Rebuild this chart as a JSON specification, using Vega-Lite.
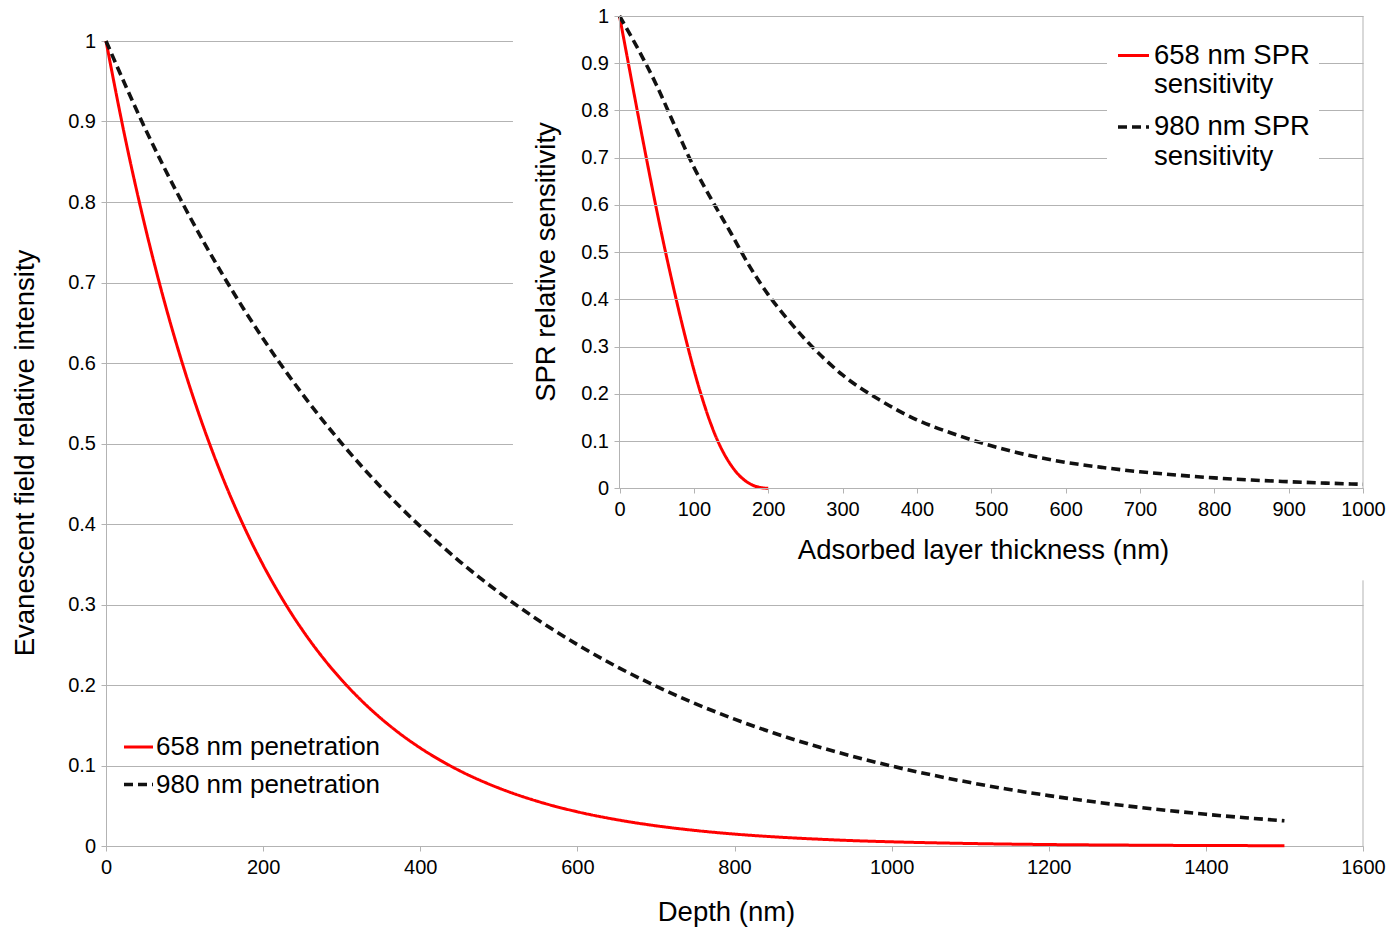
{
  "$schema": "https://vega.github.io/schema/vega-lite/v6.json",
  "width": 1257,
  "height": 805,
  "autosize": {"type": "none"},
  "padding": {"left": 106, "top": 41, "right": 28, "bottom": 83},
  "background": "white",
  "config": {
    "font": "Liberation Sans",
    "view": {"stroke": null},
    "axis": {
      "labelFont": "Liberation Sans",
      "titleFont": "Liberation Sans",
      "labelFontSize": 20,
      "labelColor": "#000000",
      "titleFontSize": 27.5,
      "titleFontWeight": "normal",
      "titleColor": "#000000",
      "domainColor": "#b3b3b3",
      "tickColor": "#b3b3b3",
      "gridColor": "#b3b3b3",
      "tickSize": 5,
      "labelFlush": false,
      "labelOverlap": false
    },
    "legend": {
      "labelFont": "Liberation Sans",
      "labelColor": "#000000",
      "labelLimit": 400
    }
  },
  "datasets": {
    "main": [
      {"depth": 0, "value": 1.0, "series": "658 nm penetration"},
      {"depth": 25, "value": 0.8767, "series": "658 nm penetration"},
      {"depth": 50, "value": 0.7686, "series": "658 nm penetration"},
      {"depth": 75, "value": 0.6739, "series": "658 nm penetration"},
      {"depth": 100, "value": 0.5908, "series": "658 nm penetration"},
      {"depth": 125, "value": 0.5179, "series": "658 nm penetration"},
      {"depth": 150, "value": 0.4541, "series": "658 nm penetration"},
      {"depth": 175, "value": 0.3981, "series": "658 nm penetration"},
      {"depth": 200, "value": 0.349, "series": "658 nm penetration"},
      {"depth": 225, "value": 0.306, "series": "658 nm penetration"},
      {"depth": 250, "value": 0.2683, "series": "658 nm penetration"},
      {"depth": 275, "value": 0.2352, "series": "658 nm penetration"},
      {"depth": 300, "value": 0.2062, "series": "658 nm penetration"},
      {"depth": 325, "value": 0.1808, "series": "658 nm penetration"},
      {"depth": 350, "value": 0.1585, "series": "658 nm penetration"},
      {"depth": 375, "value": 0.1389, "series": "658 nm penetration"},
      {"depth": 400, "value": 0.1218, "series": "658 nm penetration"},
      {"depth": 450, "value": 0.0936, "series": "658 nm penetration"},
      {"depth": 500, "value": 0.072, "series": "658 nm penetration"},
      {"depth": 550, "value": 0.0553, "series": "658 nm penetration"},
      {"depth": 600, "value": 0.0425, "series": "658 nm penetration"},
      {"depth": 650, "value": 0.0327, "series": "658 nm penetration"},
      {"depth": 700, "value": 0.0251, "series": "658 nm penetration"},
      {"depth": 750, "value": 0.0193, "series": "658 nm penetration"},
      {"depth": 800, "value": 0.0148, "series": "658 nm penetration"},
      {"depth": 850, "value": 0.0114, "series": "658 nm penetration"},
      {"depth": 900, "value": 0.0088, "series": "658 nm penetration"},
      {"depth": 950, "value": 0.0067, "series": "658 nm penetration"},
      {"depth": 1000, "value": 0.0052, "series": "658 nm penetration"},
      {"depth": 1100, "value": 0.0031, "series": "658 nm penetration"},
      {"depth": 1200, "value": 0.0018, "series": "658 nm penetration"},
      {"depth": 1300, "value": 0.0011, "series": "658 nm penetration"},
      {"depth": 1400, "value": 0.0006, "series": "658 nm penetration"},
      {"depth": 1500, "value": 0.0004, "series": "658 nm penetration"},
      {"depth": 0, "value": 1.0, "series": "980 nm penetration"},
      {"depth": 50, "value": 0.8909, "series": "980 nm penetration"},
      {"depth": 100, "value": 0.7938, "series": "980 nm penetration"},
      {"depth": 150, "value": 0.7072, "series": "980 nm penetration"},
      {"depth": 200, "value": 0.6301, "series": "980 nm penetration"},
      {"depth": 250, "value": 0.5614, "series": "980 nm penetration"},
      {"depth": 300, "value": 0.5002, "series": "980 nm penetration"},
      {"depth": 350, "value": 0.4456, "series": "980 nm penetration"},
      {"depth": 400, "value": 0.397, "series": "980 nm penetration"},
      {"depth": 450, "value": 0.3537, "series": "980 nm penetration"},
      {"depth": 500, "value": 0.3151, "series": "980 nm penetration"},
      {"depth": 550, "value": 0.2808, "series": "980 nm penetration"},
      {"depth": 600, "value": 0.2502, "series": "980 nm penetration"},
      {"depth": 650, "value": 0.2229, "series": "980 nm penetration"},
      {"depth": 700, "value": 0.1986, "series": "980 nm penetration"},
      {"depth": 750, "value": 0.1769, "series": "980 nm penetration"},
      {"depth": 800, "value": 0.1576, "series": "980 nm penetration"},
      {"depth": 850, "value": 0.1404, "series": "980 nm penetration"},
      {"depth": 900, "value": 0.1251, "series": "980 nm penetration"},
      {"depth": 950, "value": 0.1115, "series": "980 nm penetration"},
      {"depth": 1000, "value": 0.0993, "series": "980 nm penetration"},
      {"depth": 1050, "value": 0.0885, "series": "980 nm penetration"},
      {"depth": 1100, "value": 0.0788, "series": "980 nm penetration"},
      {"depth": 1150, "value": 0.0702, "series": "980 nm penetration"},
      {"depth": 1200, "value": 0.0626, "series": "980 nm penetration"},
      {"depth": 1250, "value": 0.0558, "series": "980 nm penetration"},
      {"depth": 1300, "value": 0.0497, "series": "980 nm penetration"},
      {"depth": 1350, "value": 0.0443, "series": "980 nm penetration"},
      {"depth": 1400, "value": 0.0394, "series": "980 nm penetration"},
      {"depth": 1450, "value": 0.0351, "series": "980 nm penetration"},
      {"depth": 1500, "value": 0.0313, "series": "980 nm penetration"}
    ],
    "inset": [
      {"thickness": 0, "sensitivity": 1.0, "series": "658 nm SPR sensitivity"},
      {"thickness": 10, "sensitivity": 0.916, "series": "658 nm SPR sensitivity"},
      {"thickness": 20, "sensitivity": 0.832, "series": "658 nm SPR sensitivity"},
      {"thickness": 30, "sensitivity": 0.749, "series": "658 nm SPR sensitivity"},
      {"thickness": 40, "sensitivity": 0.668, "series": "658 nm SPR sensitivity"},
      {"thickness": 50, "sensitivity": 0.589, "series": "658 nm SPR sensitivity"},
      {"thickness": 60, "sensitivity": 0.514, "series": "658 nm SPR sensitivity"},
      {"thickness": 70, "sensitivity": 0.443, "series": "658 nm SPR sensitivity"},
      {"thickness": 80, "sensitivity": 0.375, "series": "658 nm SPR sensitivity"},
      {"thickness": 90, "sensitivity": 0.311, "series": "658 nm SPR sensitivity"},
      {"thickness": 100, "sensitivity": 0.251, "series": "658 nm SPR sensitivity"},
      {"thickness": 110, "sensitivity": 0.197, "series": "658 nm SPR sensitivity"},
      {"thickness": 120, "sensitivity": 0.149, "series": "658 nm SPR sensitivity"},
      {"thickness": 130, "sensitivity": 0.108, "series": "658 nm SPR sensitivity"},
      {"thickness": 140, "sensitivity": 0.075, "series": "658 nm SPR sensitivity"},
      {"thickness": 150, "sensitivity": 0.049, "series": "658 nm SPR sensitivity"},
      {"thickness": 160, "sensitivity": 0.029, "series": "658 nm SPR sensitivity"},
      {"thickness": 170, "sensitivity": 0.015, "series": "658 nm SPR sensitivity"},
      {"thickness": 180, "sensitivity": 0.006, "series": "658 nm SPR sensitivity"},
      {"thickness": 190, "sensitivity": 0.0015, "series": "658 nm SPR sensitivity"},
      {"thickness": 200, "sensitivity": 0.0, "series": "658 nm SPR sensitivity"},
      {"thickness": 0, "sensitivity": 1.0, "series": "980 nm SPR sensitivity"},
      {"thickness": 25, "sensitivity": 0.93, "series": "980 nm SPR sensitivity"},
      {"thickness": 50, "sensitivity": 0.853, "series": "980 nm SPR sensitivity"},
      {"thickness": 75, "sensitivity": 0.765, "series": "980 nm SPR sensitivity"},
      {"thickness": 100, "sensitivity": 0.68, "series": "980 nm SPR sensitivity"},
      {"thickness": 125, "sensitivity": 0.608, "series": "980 nm SPR sensitivity"},
      {"thickness": 150, "sensitivity": 0.54, "series": "980 nm SPR sensitivity"},
      {"thickness": 175, "sensitivity": 0.47, "series": "980 nm SPR sensitivity"},
      {"thickness": 200, "sensitivity": 0.41, "series": "980 nm SPR sensitivity"},
      {"thickness": 225, "sensitivity": 0.36, "series": "980 nm SPR sensitivity"},
      {"thickness": 250, "sensitivity": 0.315, "series": "980 nm SPR sensitivity"},
      {"thickness": 275, "sensitivity": 0.275, "series": "980 nm SPR sensitivity"},
      {"thickness": 300, "sensitivity": 0.24, "series": "980 nm SPR sensitivity"},
      {"thickness": 350, "sensitivity": 0.187, "series": "980 nm SPR sensitivity"},
      {"thickness": 400, "sensitivity": 0.145, "series": "980 nm SPR sensitivity"},
      {"thickness": 450, "sensitivity": 0.115, "series": "980 nm SPR sensitivity"},
      {"thickness": 500, "sensitivity": 0.09, "series": "980 nm SPR sensitivity"},
      {"thickness": 550, "sensitivity": 0.07, "series": "980 nm SPR sensitivity"},
      {"thickness": 600, "sensitivity": 0.055, "series": "980 nm SPR sensitivity"},
      {"thickness": 650, "sensitivity": 0.044, "series": "980 nm SPR sensitivity"},
      {"thickness": 700, "sensitivity": 0.035, "series": "980 nm SPR sensitivity"},
      {"thickness": 750, "sensitivity": 0.028, "series": "980 nm SPR sensitivity"},
      {"thickness": 800, "sensitivity": 0.022, "series": "980 nm SPR sensitivity"},
      {"thickness": 850, "sensitivity": 0.0175, "series": "980 nm SPR sensitivity"},
      {"thickness": 900, "sensitivity": 0.014, "series": "980 nm SPR sensitivity"},
      {"thickness": 950, "sensitivity": 0.011, "series": "980 nm SPR sensitivity"},
      {"thickness": 1000, "sensitivity": 0.0085, "series": "980 nm SPR sensitivity"}
    ]
  },
  "layer": [
    {
      "layer": [
        {
          "data": {"name": "main"},
          "mark": {"type": "line", "interpolate": "monotone"},
          "encoding": {
            "x": {
              "field": "depth",
              "type": "quantitative",
              "scale": {"domain": [0, 1600], "nice": false, "zero": false},
              "axis": {
                "title": "Depth (nm)",
                "values": [0, 200, 400, 600, 800, 1000, 1200, 1400, 1600],
                "format": "d",
                "grid": false,
                "labelPadding": 6,
                "titlePadding": 21,
                "titleX": 620
              }
            },
            "y": {
              "field": "value",
              "type": "quantitative",
              "scale": {"domain": [0, 1], "nice": false, "zero": false},
              "axis": {
                "title": "Evanescent field relative intensity",
                "values": [0, 0.1, 0.2, 0.3, 0.4, 0.5, 0.6, 0.7, 0.8, 0.9, 1],
                "format": "~g",
                "grid": true,
                "labelPadding": 5.5,
                "titlePadding": 28.5,
                "titleY": 411.5
              }
            },
            "strokeWidth": {
              "field": "series",
              "type": "nominal",
              "scale": {"domain": ["658 nm penetration", "980 nm penetration"], "range": [3, 3.6]},
              "legend": null
            },
            "color": {
              "field": "series",
              "type": "nominal",
              "scale": {"domain": ["658 nm penetration", "980 nm penetration"], "range": ["#ff0000", "#111111"]},
              "legend": {
                "title": null,
                "orient": "none",
                "legendX": 16,
                "legendY": 690,
                "labelFontSize": 26,
                "symbolType": "stroke",
                "symbolSize": 841,
                "symbolStrokeWidth": 3,
                "labelOffset": 1,
                "rowPadding": 8,
                "padding": 0,
                "zindex": 2
              }
            },
            "strokeDash": {
              "field": "series",
              "type": "nominal",
              "scale": {"domain": ["658 nm penetration", "980 nm penetration"], "range": [[1, 0], [9, 5]]},
              "legend": {
                "title": null,
                "orient": "none",
                "legendX": 16,
                "legendY": 690,
                "labelFontSize": 26,
                "symbolType": "stroke",
                "symbolSize": 841,
                "symbolStrokeWidth": 3,
                "labelOffset": 1,
                "rowPadding": 8,
                "padding": 0,
                "zindex": 2
              }
            }
          }
        },
        {
          "data": {"values": [{}]},
          "mark": {"type": "rect", "fill": "white", "stroke": null},
          "encoding": {
            "x": {"datum": 518, "type": "quantitative"},
            "x2": {"datum": 1700},
            "y": {"datum": 0.33, "type": "quantitative"},
            "y2": {"datum": 1.1}
          }
        },
        {
          "data": {"values": [{}]},
          "mark": {"type": "rule", "color": "#b3b3b3", "strokeWidth": 1},
          "encoding": {
            "x": {"datum": 1600, "type": "quantitative"},
            "y": {"datum": 0, "type": "quantitative"},
            "y2": {"datum": 0.33}
          }
        }
      ]
    },
    {
      "layer": [
        {
          "data": {"name": "inset"},
          "mark": {"type": "line", "interpolate": "monotone"},
          "encoding": {
            "x": {
              "field": "thickness",
              "type": "quantitative",
              "scale": {"domain": [0, 1000], "range": [513.5, 1257], "nice": false, "zero": false},
              "axis": {
                "orient": "bottom",
                "offset": -358,
                "title": "Adsorbed layer thickness (nm)",
                "values": [0, 100, 200, 300, 400, 500, 600, 700, 800, 900, 1000],
                "format": "d",
                "grid": false,
                "labelPadding": 6,
                "titlePadding": 17,
                "titleX": 877,
                "zindex": 1
              }
            },
            "y": {
              "field": "sensitivity",
              "type": "quantitative",
              "scale": {"domain": [0, 1], "range": [447.3, -25], "nice": false, "zero": false},
              "axis": {
                "orient": "left",
                "offset": -513,
                "title": "SPR relative sensitivity",
                "values": [0, 0.1, 0.2, 0.3, 0.4, 0.5, 0.6, 0.7, 0.8, 0.9, 1],
                "format": "~g",
                "grid": true,
                "labelPadding": 5.5,
                "titlePadding": 20.5,
                "titleY": 220.5,
                "zindex": 1
              }
            },
            "strokeWidth": {
              "field": "series",
              "type": "nominal",
              "scale": {"domain": ["658 nm SPR sensitivity", "980 nm SPR sensitivity"], "range": [3, 3.6]},
              "legend": null
            },
            "color": {
              "field": "series",
              "type": "nominal",
              "scale": {"domain": ["658 nm SPR sensitivity", "980 nm SPR sensitivity"], "range": ["#ff0000", "#111111"]},
              "legend": {
                "title": null,
                "orient": "none",
                "legendX": 1001,
                "legendY": -11.5,
                "labelFontSize": 27.5,
                "symbolType": "stroke",
                "symbolSize": 961,
                "symbolStrokeWidth": 3,
                "labelOffset": 3,
                "rowPadding": 11,
                "padding": 9,
                "fillColor": "white",
                "labelBaseline": "middle",
                "labelExpr": "[replace(datum.label, ' sensitivity', ''), 'sensitivity']",
                "zindex": 2
              }
            },
            "strokeDash": {
              "field": "series",
              "type": "nominal",
              "scale": {"domain": ["658 nm SPR sensitivity", "980 nm SPR sensitivity"], "range": [[1, 0], [9, 5]]},
              "legend": {
                "title": null,
                "orient": "none",
                "legendX": 1001,
                "legendY": -11.5,
                "labelFontSize": 27.5,
                "symbolType": "stroke",
                "symbolSize": 961,
                "symbolStrokeWidth": 3,
                "labelOffset": 3,
                "rowPadding": 11,
                "padding": 9,
                "fillColor": "white",
                "labelBaseline": "middle",
                "labelExpr": "[replace(datum.label, ' sensitivity', ''), 'sensitivity']",
                "zindex": 2
              }
            }
          }
        },
        {
          "data": {"values": [{}]},
          "mark": {"type": "rule", "color": "#b3b3b3", "strokeWidth": 1},
          "encoding": {
            "x": {"datum": 1000, "type": "quantitative"},
            "y": {"datum": 0, "type": "quantitative"},
            "y2": {"datum": 1}
          }
        }
      ]
    }
  ],
  "resolve": {
    "scale": {"x": "independent", "y": "independent", "color": "independent", "strokeDash": "independent", "strokeWidth": "independent"}
  }
}
